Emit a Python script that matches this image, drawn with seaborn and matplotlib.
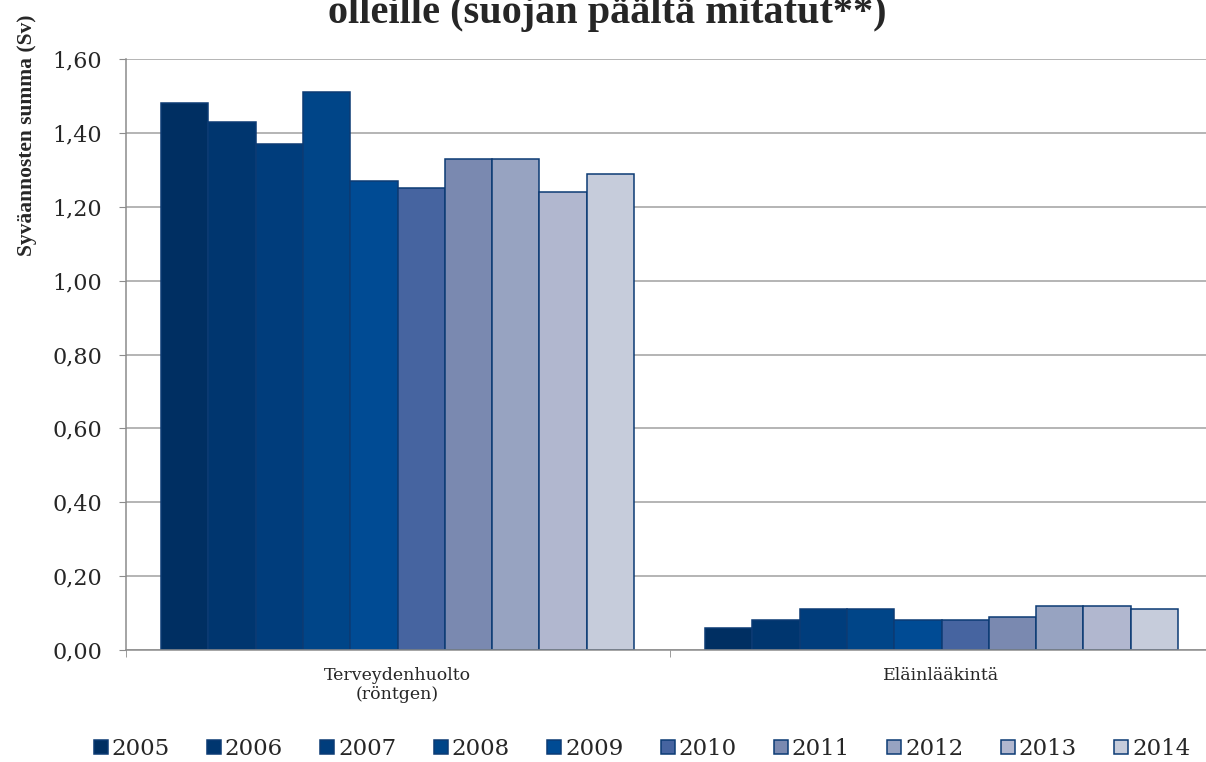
import matplotlib
matplotlib.use('Agg')
import matplotlib.pyplot as plt
import pandas as pd
import seaborn as sns
from matplotlib.ticker import FuncFormatter, FixedLocator

# Data
categories = ['Terveydenhuolto\n(röntgen)', 'Eläinlääkintä']
years = ['2005', '2006', '2007', '2008', '2009', '2010', '2011', '2012', '2013', '2014']
terveydenhuolto = [1.48, 1.43, 1.37, 1.51, 1.27, 1.25, 1.33, 1.33, 1.24, 1.29]
elainlaakinta = [0.06, 0.08, 0.11, 0.11, 0.08, 0.08, 0.09, 0.12, 0.12, 0.11]
colors = ['#002f62', '#00366f', '#003d7c', '#004588', '#004b94',
          '#4664a0', '#7a89b0', '#97a3c1', '#b1b7cf', '#c6ccdb']

rows = []
for cat, vals in zip(categories, [terveydenhuolto, elainlaakinta]):
    for y, v in zip(years, vals):
        rows.append({'category': cat, 'year': y, 'value': v})
df = pd.DataFrame(rows)

sns.set_style('white')
plt.rcParams['font.family'] = ['DejaVu Serif']

W, H = 1206, 762
fig = plt.figure(figsize=(W / 100, H / 100), dpi=100)
# plot area runs a little past the right edge, as in the (cropped) reference
ax = fig.add_axes([125.5 / W, (H - 650) / H, 1088 / W, 591 / H])

sns.barplot(data=df, x='category', y='value', hue='year', order=categories,
            hue_order=years, palette=colors, saturation=1, width=0.87, gap=0,
            edgecolor='#0c3b74', linewidth=1.1, ax=ax)

ax.set_ylim(0, 1.6)
ax.set_xlim(-0.5, 1.5)
ax.set_yticks([0, 0.2, 0.4, 0.6, 0.8, 1.0, 1.2, 1.4, 1.6])
ax.yaxis.set_major_formatter(FuncFormatter(lambda v, p: f'{v:.2f}'.replace('.', ',')))
ax.tick_params(axis='y', labelsize=16, length=5, color='#8c8c8c', direction='out', left=True, pad=12)
ax.yaxis.grid(True, color='#a0a0a0', linewidth=1.1)
ax.set_axisbelow(True)

ax.tick_params(axis='x', which='major', length=0, labelsize=12.5, pad=12)
ax.xaxis.set_minor_locator(FixedLocator([-0.5, 0.5, 1.5]))
ax.tick_params(axis='x', which='minor', length=5, color='#8c8c8c', direction='out', bottom=True)

for side in ['top', 'right']:
    ax.spines[side].set_visible(False)
for side in ['left', 'bottom']:
    ax.spines[side].set_color('#8c8c8c')
    ax.spines[side].set_linewidth(1.1)

ax.set_xlabel('')
ax.set_ylabel('')
fig.text(27 / W, 1 - 135.5 / H, 'Syväannosten summa (Sv)', rotation=90,
         ha='center', va='center', fontsize=15.5, fontweight='bold',
         family='Liberation Serif')

handles, labels = ax.get_legend_handles_labels()
ax.get_legend().remove()
fig.legend(handles, labels, loc='center', ncol=10, frameon=False,
           bbox_to_anchor=(642 / W, 1 - 749 / H), fontsize=16.5, handlelength=0.61,
           handleheight=0.61, handletextpad=0.17, columnspacing=1.63,
           borderpad=0, borderaxespad=0)

# Title: the first line falls outside the image, as in the reference
fig.text(607 / W, 1 - 23 / H, 'Syväannosten summa terveydenhuollon ja eläinlääkinnän säteilytyössä\n'
         'olleille (suojan päältä mitatut**)', ha='center', va='baseline',
         fontsize=29, fontweight='bold', family='Liberation Serif', linespacing=1.1)

fig.savefig('out.png', dpi=100)
